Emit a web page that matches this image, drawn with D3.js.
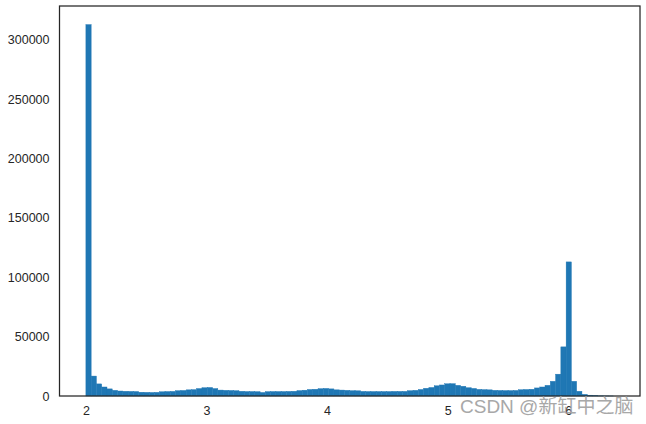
<!DOCTYPE html>
<html>
<head>
<meta charset="utf-8">
<script src="https://cdn.jsdelivr.net/npm/d3@7"></script>
<style>
  body { margin: 0; background: #fff; }
  .axis text { font-family: "Liberation Sans", Arial, sans-serif; font-size: 12.5px; fill: #262626; }
  .wm { font-family: "Liberation Sans", "Noto Sans CJK SC", sans-serif; font-size: 19px; fill: #a8a8a8; }
</style>
</head>
<body>
<div class="container"></div>
<script>
// histogram: 100 equal bins from binStart to binEnd
let binStart = 2, binEnd = 6.376;
let counts = [
  313000, 16800, 10200, 7600, 6000, 4800, 4200, 4000, 3900, 3800,
  3200, 3100, 3000, 3100, 3600, 3800, 3900, 4500, 4700, 5200,
  5400, 6300, 7000, 7200, 6300, 5000, 4800, 4700, 4500, 4000,
  3800, 3800, 3700, 3000, 3700, 3800, 3800, 3800, 3900, 4000,
  4600, 4900, 5500, 5700, 6200, 6400, 6000, 5200, 5000, 4800,
  4500, 4400, 3900, 3800, 3800, 3800, 3800, 3800, 3900, 3900,
  3900, 4500, 4800, 5500, 6500, 7200, 8600, 9300, 10300, 10400,
  9000, 8200, 7000, 6400, 5600, 5400, 5200, 4800, 4700, 4600,
  4600, 4700, 5300, 5500, 5700, 6800, 7600, 9000, 12400, 18400,
  41400, 113000, 12400, 4000, 1400, 700, 500, 150, 80, 40
];
let xTicks = [2, 3, 4, 5, 6];
let yTicks = [0, 50000, 100000, 150000, 200000, 250000, 300000];

let margin = {top: 6, right: 6, bottom: 28, left: 59.5},
  width = 646 - margin.left - margin.right,
  height = 424 - margin.top - margin.bottom;

let binW = (binEnd - binStart) / counts.length;
let bins = counts.map((c, i) => ({x0: binStart + i * binW, x1: binStart + (i + 1) * binW, n: c}));

// matplotlib-style 5% padding on x, top padding on y
let pad = (binEnd - binStart) * 0.05;
let x = d3.scaleLinear().domain([binStart - pad, binEnd + pad]).range([0, width]);
let y = d3.scaleLinear().domain([0, d3.max(counts) * 1.05]).range([height, 0]);

let svg = d3.select(".container").append("svg")
    .attr("width", 646)
    .attr("height", 424)
  .append("g")
    .attr("transform", "translate(" + margin.left + "," + margin.top + ")");

svg.append("g")
  .selectAll("rect")
  .data(bins)
  .enter().append("rect")
    .attr("x", d => x(d.x0))
    .attr("width", d => x(d.x1) - x(d.x0))
    .attr("y", d => y(d.n))
    .attr("height", d => height - y(d.n))
    .style("fill", "#1f77b4")
    .style("stroke", "#1f77b4")
    .style("stroke-width", 0.4);

let xAxis = svg.append("g")
    .attr("class", "axis")
    .attr("transform", "translate(0," + height + ")")
    .call(d3.axisBottom(x).tickValues(xTicks).tickSize(0).tickPadding(10).tickFormat(d3.format("d")));
xAxis.select(".domain").remove();

let yAxis = svg.append("g")
    .attr("class", "axis")
    .call(d3.axisLeft(y).tickValues(yTicks).tickSize(0).tickPadding(10).tickFormat(d3.format("d")));
yAxis.select(".domain").remove();

svg.append("rect")
    .attr("width", width)
    .attr("height", height)
    .style("fill", "none")
    .style("stroke", "#262626")
    .style("stroke-width", 1.25);

svg.append("text")
    .attr("class", "wm")
    .attr("x", 460 - margin.left)
    .attr("y", 413 - margin.top)
    .text("CSDN @新缸中之脑");
</script>
</body>
</html>
